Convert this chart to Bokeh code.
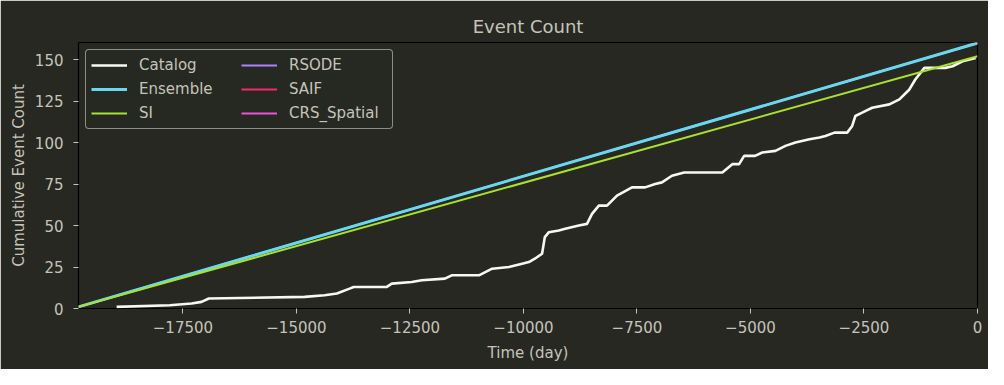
from bokeh.plotting import figure
from bokeh.models import Legend, LegendItem, FixedTicker, Range1d
from bokeh.embed import file_html
from bokeh.resources import INLINE

# ---- data ----
catalog_days = [-18960, -17790, -17310, -17090, -16930, -14820, -14380, -14110, -13830, -13740,
                -13010, -12900, -12460, -12240, -11730, -11580, -10980, -10690, -10320, -10030,
                -9880, -9750, -9590, -9530, -9440, -9220, -9080, -8780, -8600, -8490,
                -8340, -8160, -7940, -7610, -7320, -7100, -6950, -6730, -6460, -5620,
                -5400, -5250, -5140, -4900, -4740, -4450, -4230, -4010, -3700, -3480,
                -3350, -3150, -2870, -2760, -2690, -2540, -2320, -1940, -1720, -1500,
                -1370, -1170, -710, -550, -330, -40]
catalog_count = [1, 2, 3, 4, 6, 7, 8, 9, 12, 13,
                 13, 15, 16, 17, 18, 20, 20, 24, 25, 27,
                 28, 30, 33, 43, 46, 47, 48, 50, 51, 57,
                 62, 62, 68, 73, 73, 75, 76, 80, 82, 82,
                 87, 87, 92, 92, 94, 95, 98, 100, 102, 103,
                 104, 106, 106, 110, 116, 118, 121, 123, 126, 132,
                 138, 145, 145, 146, 149, 151]

ensemble_days = [-19800, 0]
ensemble_count = [1, 160]
si_days = [-19800, 0]
si_count = [1, 152]
# these series lie under the Ensemble line (not visible separately)
rsode_days = [-19800, 0]
rsode_count = [1, 160]
saif_days = [-19800, 0]
saif_count = [1, 160]
crs_days = [-19800, 0]
crs_count = [1, 160]

x_ticks = [-17500, -15000, -12500, -10000, -7500, -5000, -2500, 0]
y_ticks = [0, 25, 50, 75, 100, 125, 150]

BG = "#272822"
TXT = "#c4c4ba"
FONT = "DejaVu Sans"

p = figure(width=988, height=369, output_backend="svg", toolbar_location=None,
           x_range=Range1d(-19800, 0), y_range=Range1d(0, 160.3),
           background_fill_color=BG, border_fill_color=BG,
           min_border_left=78, min_border_right=11, min_border_top=42, min_border_bottom=61,
           title="Event Count")
p.outline_line_color = "black"
p.outline_line_width = 1.2
p.grid.visible = False

p.title.align = "center"
p.title.text_font = FONT
p.title.text_font_size = "18px"
p.title.text_font_style = "normal"
p.title.text_color = TXT
p.title.standoff = 12

for ax in (p.xaxis[0], p.yaxis[0]):
    ax.axis_line_color = None
    ax.major_tick_line_color = TXT
    ax.major_tick_out = 5
    ax.major_tick_in = 0
    ax.minor_tick_line_color = None
    ax.major_label_text_font = FONT
    ax.major_label_text_font_size = "15px"
    ax.major_label_text_color = TXT
    ax.axis_label_text_font = FONT
    ax.axis_label_text_font_size = "15px"
    ax.axis_label_text_font_style = "normal"
    ax.axis_label_text_color = TXT

p.xaxis[0].ticker = FixedTicker(ticks=x_ticks)
p.yaxis[0].ticker = FixedTicker(ticks=y_ticks)
p.xaxis[0].axis_label = "Time (day)"
p.yaxis[0].axis_label = "Cumulative Event Count"
p.xaxis[0].major_label_standoff = 7
p.xaxis[0].axis_label_standoff = 8
p.yaxis[0].major_label_standoff = 10
p.yaxis[0].axis_label_standoff = 4

r_rs = p.line(rsode_days, rsode_count, line_color="#ae81ff", line_width=2)
r_sa = p.line(saif_days, saif_count, line_color="#f92672", line_width=2)
r_crs = p.line(crs_days, crs_count, line_color="#f050e0", line_width=2)
r_cat = p.line(catalog_days, catalog_count, line_color="#f8f8f2", line_width=2.6)
r_ens = p.line(ensemble_days, ensemble_count, line_color="#66d9ef", line_width=3)
r_si = p.line(si_days, si_count, line_color="#a6e22e", line_width=2)

legend = Legend(items=[
    LegendItem(label="Catalog", renderers=[r_cat]),
    LegendItem(label="Ensemble", renderers=[r_ens]),
    LegendItem(label="SI", renderers=[r_si]),
    LegendItem(label="RSODE", renderers=[r_rs]),
    LegendItem(label="SAIF", renderers=[r_sa]),
    LegendItem(label="CRS_Spatial", renderers=[r_crs]),
], location="top_left", orientation="vertical", nrows=3)
legend.margin = 7
legend.padding = 5
legend.spacing = 4
legend.glyph_width = 36
legend.glyph_height = 20
legend.label_height = 20
legend.label_width = 98
legend.label_standoff = 12
legend.label_text_font = FONT
legend.label_text_font_size = "15px"
legend.label_text_color = TXT
legend.background_fill_color = BG
legend.background_fill_alpha = 0.85
legend.border_line_color = "#a8a8a0"
legend.border_line_alpha = 0.8
legend.border_line_width = 1.2
legend.border_radius = 4
p.add_layout(legend)

open("out.html", "w").write(file_html(p, INLINE))
